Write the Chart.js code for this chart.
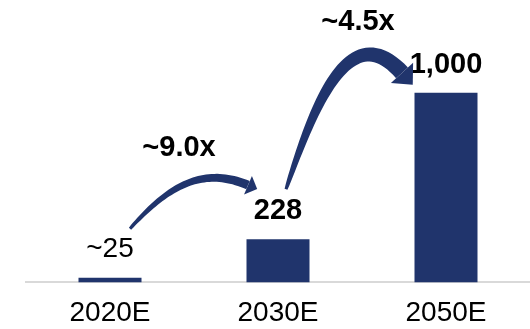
<!DOCTYPE html>
<html>
<head>
<meta charset="utf-8">
<script src="https://cdn.jsdelivr.net/npm/chart.js@4"></script>
<style>
  html, body { margin: 0; padding: 0; background: #fff; }
  #wrap { width: 530px; height: 329px; position: relative; }
</style>
</head>
<body>
<div id="wrap"><canvas id="chart"></canvas></div>
<script>
// data
const categories = ['2020E', '2030E', '2050E'];
const values = [25, 228, 1000];
const valueLabels = ['~25', '228', '1,000'];
const valueLabelBold = [false, true, true];
const growthLabels = ['~9.0x', '~4.5x'];

const navy = '#20346c';
const fontFamily = "'Liberation Sans', Arial, sans-serif";

function bez(p0, p1, p2, p3, t) {
    const u = 1 - t;
    return {
        x: u * u * u * p0.x + 3 * u * u * t * p1.x + 3 * u * t * t * p2.x + t * t * t * p3.x,
        y: u * u * u * p0.y + 3 * u * u * t * p1.y + 3 * u * t * t * p2.y + t * t * t * p3.y
    };
}

function bezDir(p0, p1, p2, p3, t) {
    const u = 1 - t;
    let dx = 3 * u * u * (p1.x - p0.x) + 6 * u * t * (p2.x - p1.x) + 3 * t * t * (p3.x - p2.x);
    let dy = 3 * u * u * (p1.y - p0.y) + 6 * u * t * (p2.y - p1.y) + 3 * t * t * (p3.y - p2.y);
    const len = Math.hypot(dx, dy) || 1;
    return { x: dx / len, y: dy / len };
}

// curved arrow that gets thicker towards the head
function drawCurvedArrow(ctx, p0, p1, p2, p3, w0, w1, headLen, headW) {
    const n = 48;
    const left = [], right = [];
    for (let i = 0; i <= n; i++) {
        const t = i / n;
        const p = bez(p0, p1, p2, p3, t);
        const d = bezDir(p0, p1, p2, p3, t);
        const w = w0 + (w1 - w0) * Math.pow(t, 0.7);
        left.push({ x: p.x - d.y * w / 2, y: p.y + d.x * w / 2 });
        right.push({ x: p.x + d.y * w / 2, y: p.y - d.x * w / 2 });
    }
    ctx.beginPath();
    ctx.moveTo(left[0].x, left[0].y);
    left.forEach(p => ctx.lineTo(p.x, p.y));
    for (let i = right.length - 1; i >= 0; i--) ctx.lineTo(right[i].x, right[i].y);
    ctx.closePath();
    ctx.fill();

    const d = bezDir(p0, p1, p2, p3, 1);
    ctx.beginPath();
    ctx.moveTo(p3.x - d.y * headW / 2, p3.y + d.x * headW / 2);
    ctx.lineTo(p3.x + d.x * headLen, p3.y + d.y * headLen);
    ctx.lineTo(p3.x + d.y * headW / 2, p3.y - d.x * headW / 2);
    ctx.closePath();
    ctx.fill();
}

const labelPlugin = {
    id: 'labels',
    afterDatasetsDraw(chart) {
        const ctx = chart.ctx;
        const meta = chart.getDatasetMeta(0);
        ctx.save();
        ctx.fillStyle = '#000';
        ctx.textAlign = 'center';
        ctx.textBaseline = 'middle';
        meta.data.forEach((bar, i) => {
            ctx.font = valueLabelBold[i] ? 'bold 29px ' + fontFamily : '28px ' + fontFamily;
            ctx.fillText(valueLabels[i], bar.x, bar.y - 28);
        });

        // growth arrows between the bars
        const x = chart.scales.x;
        const xa = x.getPixelForValue(0), xb = x.getPixelForValue(1), xc = x.getPixelForValue(2);
        const ya = meta.data[0].y, yb = meta.data[1].y, yc = meta.data[2].y;
        ctx.fillStyle = navy;
        drawCurvedArrow(ctx,
            { x: xa + 20, y: ya - 49 }, { x: xa + 55, y: ya - 88 },
            { x: xa + 90, y: ya - 113 }, { x: xb - 30, y: yb - 54 },
            3, 9, 10, 20);
        drawCurvedArrow(ctx,
            { x: xb + 8, y: yb - 50 }, { x: xb + 32, y: yb - 120 },
            { x: xb + 68, y: yb - 228 }, { x: xc - 44, y: yc - 20 },
            3, 16, 16, 30);

        ctx.fillStyle = '#000';
        ctx.font = 'bold 29px ' + fontFamily;
        ctx.fillText(growthLabels[0], (xa + xb) / 2 - 15, yb - 91);
        ctx.fillText(growthLabels[1], (xb + xc) / 2 - 4, yc - 71);
        ctx.restore();
    }
};

new Chart(document.getElementById('chart'), {
    type: 'bar',
    data: {
        labels: categories,
        datasets: [{
            data: values,
            backgroundColor: navy,
            borderWidth: 0,
            barPercentage: 0.375,
            categoryPercentage: 1
        }]
    },
    options: {
        responsive: true,
        maintainAspectRatio: false,
        animation: false,
        layout: { padding: { left: 26, right: -3, top: 0, bottom: -15 } },
        plugins: {
            legend: { display: false },
            tooltip: { enabled: false }
        },
        scales: {
            x: {
                grid: { display: false, drawTicks: false },
                border: { display: true, color: '#d9d9d9', width: 2 },
                ticks: {
                    color: '#000',
                    padding: 14,
                    font: { family: fontFamily, size: 28 }
                }
            },
            y: {
                display: false,
                min: 0,
                max: 1490
            }
        }
    },
    plugins: [labelPlugin]
});
</script>
</body>
</html>
